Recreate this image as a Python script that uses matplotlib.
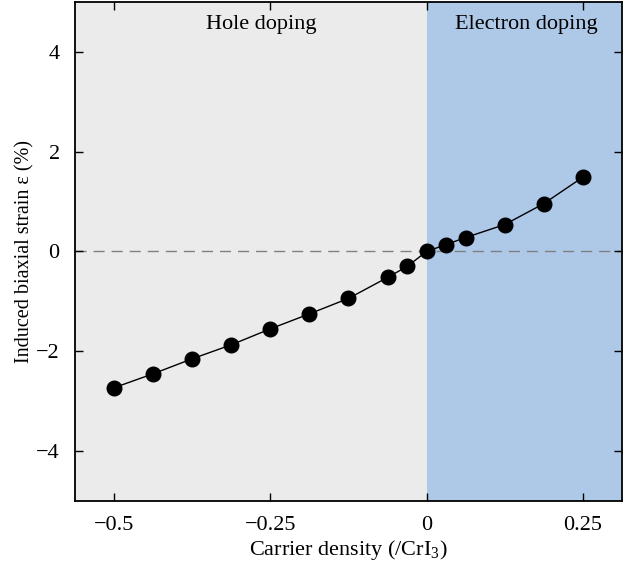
import matplotlib
matplotlib.use("Agg")
import matplotlib.pyplot as plt

carrier = [-0.5, -0.4375, -0.375, -0.3125, -0.25, -0.1875, -0.125, -0.0625, -0.03125,
           0.0, 0.03125, 0.0625, 0.125, 0.1875, 0.25]
strain = [-2.73, -2.45, -2.15, -1.87, -1.55, -1.25, -0.94, -0.52, -0.30,
          0.0, 0.14, 0.28, 0.54, 0.96, 1.49]
xticks = [-0.5, -0.25, 0, 0.25]
xticklabels = ["\u22120.5", "\u22120.25", "0", "0.25"]
yticks = [-4, -2, 0, 2, 4]
yticklabels = ["\u22124", "\u22122", "0", "2", "4"]

plt.rcParams['font.family'] = ['Liberation Serif', 'DejaVu Serif']
plt.rcParams['mathtext.fontset'] = 'custom'
plt.rcParams['mathtext.rm'] = 'Liberation Serif'

fig = plt.figure(figsize=(6.33, 5.67), dpi=100)
ax = fig.add_axes([0.1185, 0.1164, 0.8641, 0.8801])
xmin, xmax = -0.5625, 0.3125
ax.set_xlim(xmin, xmax)
ax.set_ylim(-5, 5)
ax.axvspan(xmin, 0, color='#ebebeb', zorder=0, lw=0)
ax.axvspan(0, xmax, color='#aec8e8', zorder=0, lw=0)
ax.axhline(0, color='#808080', lw=1.0, ls=(0, (8, 5)), zorder=1)
ax.plot(carrier, strain, '-', color='black', lw=1.0, marker='o', ms=10.5, zorder=3)

ax.text(-0.264, 4.55, 'Hole doping', ha='center', va='center', fontsize=16)
ax.text(0.16, 4.55, 'Electron doping', ha='center', va='center', fontsize=16)

ax.set_xticks(xticks)
ax.set_xticklabels(xticklabels)
ax.set_yticks(yticks)
ax.set_yticklabels(yticklabels)
ax.tick_params(direction='in', top=True, right=True, labelsize=16, length=6, width=1, pad=11)
for s in ax.spines.values():
    s.set_linewidth(1.3)
ax.set_xlabel('Carrier density (/CrI$_3$)', fontsize=16, labelpad=2)
ax.set_ylabel('Induced biaxial strain \u03b5 (%)', fontsize=14.5, labelpad=1)

fig.savefig('out.png', dpi=100)
